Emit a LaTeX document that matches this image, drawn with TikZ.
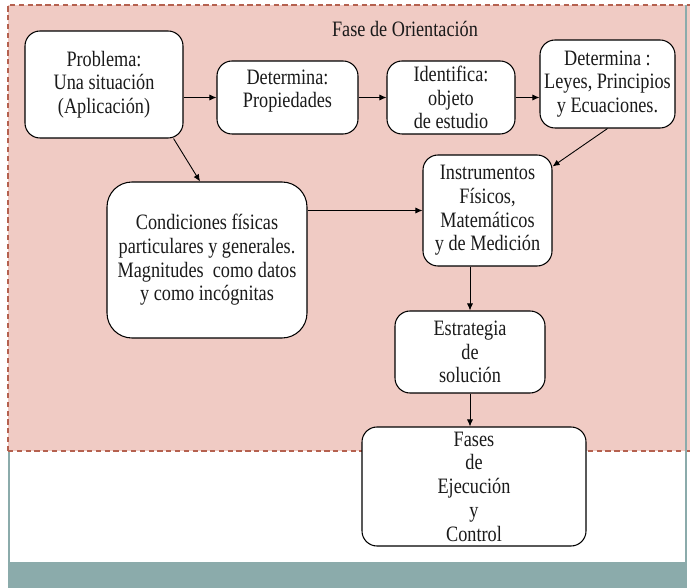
\documentclass[tikz,border=0pt]{standalone}
\usepackage{fontspec}
\setmainfont[FakeStretch=0.83]{Liberation Serif}
\usetikzlibrary{arrows.meta}
\definecolor{fasefill}{HTML}{F0CBC4}
\definecolor{faseline}{HTML}{B5614F}
\definecolor{marco}{HTML}{8BABAB}
\definecolor{texto}{HTML}{1A1A1A}

\begin{document}
\begin{tikzpicture}[every path/.style={line width=0.6pt}, paso/.style={draw=black, fill=white, rounded corners=0.3cm, align=center, text=texto, font=\fontsize{12.5}{13.5}\selectfont, inner sep=1pt}, flecha/.style={-{Latex[length=4pt,width=3.5pt]}, line width=0.5pt}]
    \useasboundingbox (0,0) rectangle (13.8,-11.76);
    \fill[fasefill] (0.16,-0.10) rectangle (13.80,-9.02);
    \draw[faseline, densely dashed, line width=0.7pt] (0.16,-9.02) -- (0.16,-0.10) -- (13.80,-0.10);
    \draw[faseline, densely dashed, line width=0.7pt] (0.16,-9.02) -- (13.80,-9.02);
    \draw[marco, line width=0.8pt] (0.18,-9.04) -- (0.18,-11.76);
    \draw[marco, line width=0.8pt] (13.72,-0.10) -- (13.72,-11.76);
    \fill[marco] (0.16,-11.24) rectangle (13.74,-11.76);
    \node[text=texto, font=\fontsize{12.5}{13.5}\selectfont] (titulo) at (8.10,-0.58) {Fase de Orientación};
    \node[paso, minimum width=3.16cm, minimum height=2.14cm] (prob) at (2.08,-1.69) {Problema:\\Una situación\\(Aplicación)};
    \node[paso, minimum width=2.82cm, minimum height=1.46cm] (prop) at (5.75,-1.95) {Determina:\\Propiedades\\[-3.5pt]};
    \node[paso, minimum width=2.56cm, minimum height=1.46cm] (ident) at (9.02,-1.95) {Identifica:\\objeto\\de estudio};
    \node[paso, minimum width=2.70cm, minimum height=1.76cm] (leyes) at (12.15,-1.68) {Determina :\\Leyes, Principios\\y Ecuaciones.};
    \node[paso, minimum width=2.58cm, minimum height=2.22cm] (instr) at (9.75,-4.21) {Instrumentos\\Físicos,\\Matemáticos\\y de Medición};
    \node[paso, rounded corners=0.5cm, minimum width=4.00cm, minimum height=3.12cm] (cond) at (4.14,-5.20) {Condiciones físicas\\particulares y generales.\\Magnitudes\ \ como datos\\y como incógnitas};
    \node[paso, minimum width=3.00cm, minimum height=1.64cm] (estr) at (9.40,-7.04) {Estrategia\\de\\solución};
    \node[paso, minimum width=4.48cm, minimum height=2.38cm] (fases) at (9.48,-9.73) {Fases\\de\\Ejecución\\y\\Control};
    \draw[flecha] (prob.east |- prop) -- (prop);
    \draw[flecha] (prop) -- (ident);
    \draw[flecha] (ident.east) -- (ident.east -| leyes.west);
    \draw[flecha] ([xshift=-0.2cm]prob.south east) -- ([xshift=-0.14cm]cond.north);
    \draw[flecha] (leyes.south) -- ([yshift=-0.24cm]instr.north east);
    \draw[flecha] (cond.east |- instr) -- (instr);
    \draw[flecha] (estr |- instr.south) -- (estr);
    \draw[flecha] (estr) -- (estr |- fases.north);
\end{tikzpicture}
\end{document}
